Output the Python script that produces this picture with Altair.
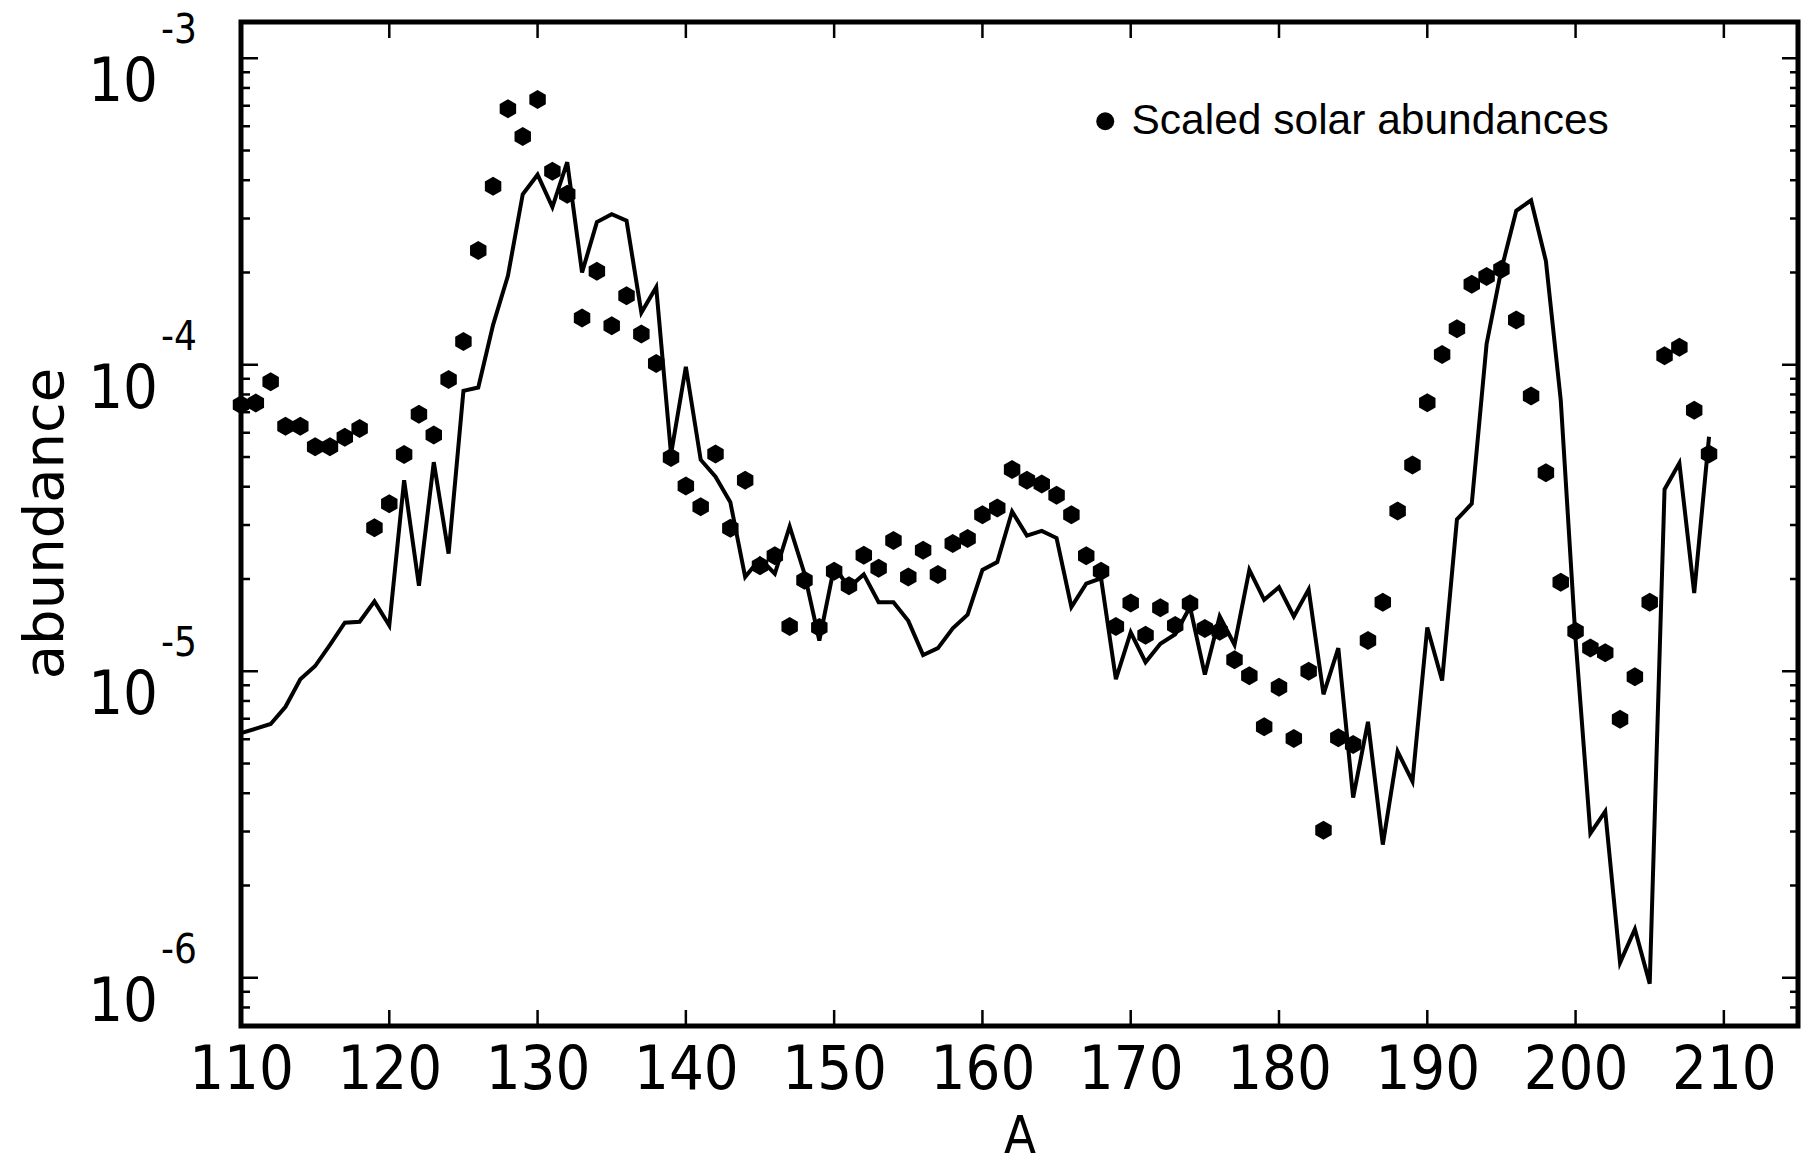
import altair as alt
import pandas as pd

# ---------------- data ----------------
mass_number = list(range(110, 210))

solar = [
    7.4e-5, 7.5e-5, 8.8e-5, 6.3e-5, 6.3e-5, 5.4e-5, 5.4e-5, 5.8e-5, 6.2e-5, 2.94e-5,
    3.52e-5, 5.1e-5, 6.9e-5, 5.9e-5, 8.95e-5, 1.19e-4, 2.36e-4, 3.82e-4, 6.84e-4, 5.56e-4,
    7.33e-4, 4.28e-4, 3.60e-4, 1.42e-4, 2.02e-4, 1.34e-4, 1.68e-4, 1.26e-4, 1.01e-4, 4.98e-5,
    4.02e-5, 3.44e-5, 5.11e-5, 2.93e-5, 4.20e-5, 2.21e-5, 2.38e-5, 1.40e-5, 1.98e-5, 1.39e-5,
    2.12e-5, 1.90e-5, 2.39e-5, 2.17e-5, 2.67e-5, 2.03e-5, 2.48e-5, 2.07e-5, 2.61e-5, 2.71e-5,
    3.24e-5, 3.41e-5, 4.55e-5, 4.20e-5, 4.08e-5, 3.75e-5, 3.24e-5, 2.38e-5, 2.12e-5, 1.40e-5,
    1.67e-5, 1.31e-5, 1.61e-5, 1.41e-5, 1.66e-5, 1.38e-5, 1.35e-5, 1.09e-5, 9.66e-6, 6.59e-6,
    8.87e-6, 6.03e-6, 1.0e-5, 3.03e-6, 6.07e-6, 5.77e-6, 1.26e-5, 1.68e-5, 3.33e-5, 4.71e-5,
    7.52e-5, 1.08e-4, 1.31e-4, 1.83e-4, 1.94e-4, 2.05e-4, 1.40e-4, 7.91e-5, 4.44e-5, 1.95e-5,
    1.35e-5, 1.19e-5, 1.15e-5, 6.97e-6, 9.59e-6, 1.68e-5, 1.07e-4, 1.14e-4, 7.11e-5, 5.11e-5,
]

model = [
    6.28e-6, 6.50e-6, 6.73e-6, 7.66e-6, 9.42e-6, 1.04e-5, 1.22e-5, 1.44e-5, 1.45e-5, 1.69e-5,
    1.41e-5, 4.20e-5, 1.90e-5, 4.81e-5, 2.42e-5, 8.22e-5, 8.43e-5, 1.35e-4, 1.95e-4, 3.60e-4,
    4.17e-4, 3.27e-4, 4.58e-4, 2.00e-4, 2.92e-4, 3.10e-4, 2.95e-4, 1.48e-4, 1.79e-4, 5.11e-5,
    9.85e-5, 4.90e-5, 4.31e-5, 3.56e-5, 2.03e-5, 2.33e-5, 2.08e-5, 2.97e-5, 2.08e-5, 1.26e-5,
    2.19e-5, 1.88e-5, 2.07e-5, 1.68e-5, 1.68e-5, 1.46e-5, 1.13e-5, 1.19e-5, 1.38e-5, 1.53e-5,
    2.14e-5, 2.27e-5, 3.32e-5, 2.77e-5, 2.87e-5, 2.72e-5, 1.62e-5, 1.93e-5, 2.01e-5, 9.42e-6,
    1.34e-5, 1.07e-5, 1.23e-5, 1.32e-5, 1.62e-5, 9.75e-6, 1.51e-5, 1.22e-5, 2.14e-5, 1.71e-5,
    1.88e-5, 1.51e-5, 1.85e-5, 8.41e-6, 1.19e-5, 3.87e-6, 6.84e-6, 2.72e-6, 5.47e-6, 4.37e-6,
    1.39e-5, 9.33e-6, 3.13e-5, 3.52e-5, 1.17e-4, 2.05e-4, 3.18e-4, 3.44e-4, 2.18e-4, 7.67e-5,
    1.27e-5, 2.96e-6, 3.49e-6, 1.12e-6, 1.44e-6, 9.57e-7, 3.92e-5, 4.78e-5, 1.80e-5, 5.82e-5,
]

legend_label = "Scaled solar abundances"

x_major_ticks = [110, 120, 130, 140, 150, 160, 170, 180, 190, 200, 210]
y_major_ticks = [1e-3, 1e-4, 1e-5, 1e-6]
y_label_base = ["10", "10", "10", "10"]
y_label_exp = ["-3", "-4", "-5", "-6"]
y_minor_ticks = [
    7e-7, 8e-7, 9e-7,
    2e-6, 3e-6, 4e-6, 5e-6, 6e-6, 7e-6, 8e-6, 9e-6,
    2e-5, 3e-5, 4e-5, 5e-5, 6e-5, 7e-5, 8e-5, 9e-5,
    2e-4, 3e-4, 4e-4, 5e-4, 6e-4, 7e-4, 8e-4, 9e-4,
]

# ---------------- tables ----------------
df = pd.DataFrame({"A": mass_number, "solar": solar, "model": model,
                   "series": [legend_label] * len(mass_number)})
xt = pd.DataFrame({"A": x_major_ticks})
ytm = pd.DataFrame({"v": y_major_ticks, "base": y_label_base, "exp": y_label_exp})
ytn = pd.DataFrame({"v": y_minor_ticks})

# ---------------- layout ----------------
W, H = 1557, 1004
FONT_C = "DejaVu Sans Condensed, DejaVu Sans"
HEX = "M0,-1L0.866,-0.5L0.866,0.5L0,1L-0.866,0.5L-0.866,-0.5Z"

xs = alt.Scale(domain=[110, 215], nice=False, zero=False)
ys = alt.Scale(type="log", domain=[6.96e-7, 1.313e-3], nice=False)

x_axis = alt.Axis(values=x_major_ticks, format="d", ticks=False, tickSize=0, domain=False,
                  grid=False, labelFont=FONT_C, labelFontSize=61, labelColor="black",
                  labelBaseline="alphabetic", labelPadding=62, labelFlush=False,
                  title="A", titleFont=FONT_C, titleFontSize=52, titleFontWeight="normal",
                  titleColor="black", titleBaseline="alphabetic", titleY=126)
y_axis = alt.Axis(labels=False, ticks=False, tickSize=0, domain=False, grid=False,
                  title="abundance", titleFont="DejaVu Sans", titleFontSize=56,
                  titleFontWeight="normal", titleColor="black", titleAngle=-90,
                  titleAlign="center", titleBaseline="alphabetic", titleX=-179, titleY=501)

X = alt.X("A:Q", scale=xs, axis=x_axis)

line = alt.Chart(df).mark_line(color="black", strokeWidth=4).encode(
    x=X,
    y=alt.Y("model:Q", scale=ys, axis=y_axis),
    order="A:Q",
)

points = alt.Chart(df).mark_point(filled=True, shape=HEX, size=361, opacity=1, strokeWidth=0).encode(
    x=X,
    y=alt.Y("solar:Q", scale=ys, axis=y_axis),
    color=alt.Color("series:N", scale=alt.Scale(range=["black"]),
                    legend=alt.Legend(orient="none", legendX=843, legendY=78, title=None,
                                      symbolType="circle", symbolSize=324,
                                      symbolFillColor="black", symbolStrokeWidth=0,
                                      labelFont="Liberation Sans", labelFontSize=42.5,
                                      labelColor="black", labelOffset=5, padding=0,
                                      labelLimit=800)),
)

def yrule(data, x0, x1):
    return alt.Chart(data).mark_rule(color="black", strokeWidth=2.5).encode(
        y=alt.Y("v:Q", scale=ys, axis=y_axis), x=alt.value(x0), x2=alt.value(x1))

def xrule(data, y0, y1):
    return alt.Chart(data).mark_rule(color="black", strokeWidth=2.5).encode(
        x=X, y=alt.value(y0), y2=alt.value(y1))

ticks = [
    yrule(ytm, 0, 17), yrule(ytm, W - 16, W),
    yrule(ytn, 0, 9), yrule(ytn, W - 8, W),
    xrule(xt, H - 16, H), xrule(xt, 0, 16),
]

ylab_base = alt.Chart(ytm).mark_text(align="right", baseline="alphabetic", font=FONT_C,
                                     fontSize=61, color="black", dy=43).encode(
    y=alt.Y("v:Q", scale=ys, axis=y_axis), x=alt.value(-83), text="base:N")
ylab_exp = alt.Chart(ytm).mark_text(align="left", baseline="alphabetic", font=FONT_C,
                                    fontSize=40, color="black", dy=-15).encode(
    y=alt.Y("v:Q", scale=ys, axis=y_axis), x=alt.value(-80), text="exp:N")

chart = alt.layer(line, points, *ticks, ylab_base, ylab_exp).properties(
    width=W, height=H,
    padding={"left": 241, "top": 22, "right": 4, "bottom": 139},
    autosize=alt.AutoSizeParams(type="none"),
    background="white",
).configure_view(stroke="black", strokeWidth=5)

chart.save("out.html", embed_options={"renderer": "svg", "actions": False})
